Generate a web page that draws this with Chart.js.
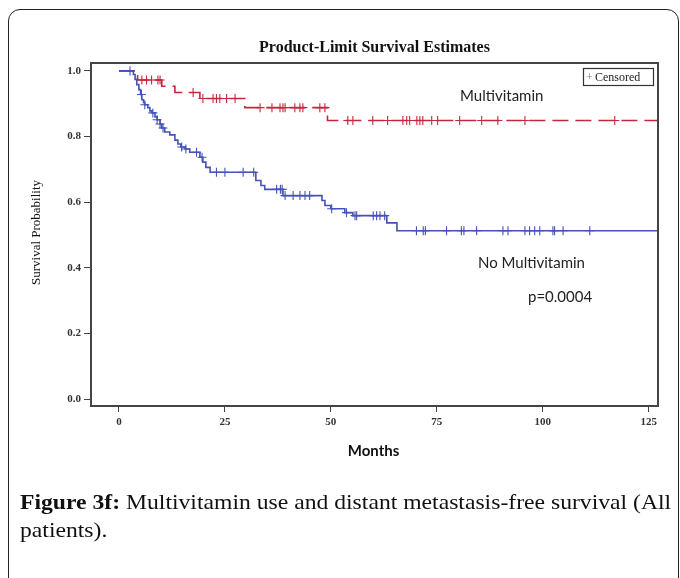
<!DOCTYPE html>
<html><head><meta charset="utf-8">
<script src="https://cdn.jsdelivr.net/npm/chart.js@4"></script>
<style>
html,body{margin:0;padding:0;background:#fff;width:680px;height:578px;overflow:hidden;}
#frame{position:absolute;left:8px;top:9px;width:671px;height:640px;border:1.6px solid #222;border-radius:12px;box-sizing:border-box;}
#wrap{position:absolute;left:0;top:0;width:680px;height:578px;}
#caption{position:absolute;left:20px;top:488px;width:600px;font-family:"Liberation Serif",serif;font-size:21.5px;line-height:28px;color:#111;white-space:nowrap;transform:scaleX(1.1);transform-origin:0 0;}
#caption b{font-weight:bold;}
</style></head>
<body>
<div id="frame"></div>
<div id="wrap"><canvas id="c" width="680" height="578"></canvas></div>
<div id="caption"><b>Figure 3f:</b> Multivitamin use and distant metastasis-free survival (All<br>patients).</div>
<script>
// ---- data ----
const xTicks = [0, 25, 50, 75, 100, 125];
const yTicks = [0.0, 0.2, 0.4, 0.6, 0.8, 1.0];
const followEnd = 127.2;

const noMvTimes = [0, 3.4, 3.8, 4.2, 4.7, 5.1, 5.4, 5.8, 6.1, 6.8, 7.3, 7.8, 8.5, 9.0, 9.7, 10.1, 10.8, 12.0, 13.2, 13.9, 14.6, 15.6, 16.7, 19.1, 19.8, 20.5, 21.5, 32.3, 33.5, 34.4, 38.7, 47.9, 48.6, 50.0, 53.3, 55.2, 63.2, 65.6];
const noMvSurv  = [1.0, 0.989, 0.974, 0.958, 0.943, 0.928, 0.912, 0.903, 0.897, 0.888, 0.878, 0.872, 0.860, 0.851, 0.838, 0.826, 0.814, 0.805, 0.789, 0.777, 0.768, 0.762, 0.752, 0.737, 0.722, 0.706, 0.691, 0.666, 0.651, 0.639, 0.620, 0.605, 0.590, 0.580, 0.568, 0.559, 0.537, 0.513];
const noMvCensored = [2.6, 5.3, 6.1, 8.0, 9.0, 9.7, 10.4, 14.8, 15.8, 18.3, 19.6, 23.0, 25.0, 29.3, 31.8, 37.2, 38.1, 38.5, 39.2, 41.1, 42.7, 43.9, 45.0, 50.2, 53.7, 55.7, 56.1, 60.0, 60.8, 61.6, 62.7, 70.2, 71.8, 72.3, 77.3, 80.8, 81.4, 84.4, 90.6, 91.8, 95.8, 96.9, 98.1, 99.3, 102.4, 102.8, 104.8, 111.1];

const mvTimes = [0, 3.6, 4.4, 10.1, 13.2, 19.1, 29.7, 49.2];
const mvSurv  = [1.0, 0.985, 0.972, 0.953, 0.934, 0.916, 0.888, 0.849];
const mvCensored = [5.4, 6.5, 7.7, 9.2, 9.7, 17.5, 19.8, 22.2, 23.0, 23.8, 25.4, 27.4, 33.3, 36.1, 38.0, 38.7, 39.2, 41.5, 42.7, 43.4, 47.4, 48.6, 54.0, 55.2, 59.9, 63.4, 67.0, 67.9, 68.6, 70.3, 71.0, 71.7, 73.8, 75.2, 80.4, 85.6, 89.4, 95.8, 117.0];

const groupLabels = ['Multivitamin', 'No Multivitamin'];
const pValueText = 'p=0.0004';

// ---- helpers ----
function stepPoints(times, surv, end) {
  const pts = times.map((t, i) => ({x: t, y: surv[i]}));
  pts.push({x: end, y: surv[surv.length - 1]});
  return pts;
}
function survAt(times, surv, t) {
  let s = surv[0];
  for (let i = 0; i < times.length; i++) if (times[i] <= t) s = surv[i];
  return s;
}
function censorPoints(times, surv, cens) {
  return cens.map(t => ({x: t, y: survAt(times, surv, t)}));
}

const RED = '#c4283c';
const BLUE = '#4453b4';

const overlay = {
  id: 'overlay',
  afterDraw(chart) {
    const ctx = chart.ctx, a = chart.chartArea;
    ctx.save();
    // box top and right
    ctx.strokeStyle = '#444'; ctx.lineWidth = 2;
    ctx.beginPath();
    ctx.moveTo(a.left, a.top); ctx.lineTo(a.right, a.top); ctx.lineTo(a.right, a.bottom);
    ctx.stroke();
    // title
    ctx.fillStyle = '#111';
    ctx.textAlign = 'center'; ctx.textBaseline = 'middle';
    ctx.font = 'bold 16px "Liberation Serif", serif';
    ctx.fillText('Product-Limit Survival Estimates', (a.left + a.right) / 2, 48);
    // x title
    ctx.font = 'bold 15px Lato, "Open Sans", sans-serif';
    ctx.fillText('Months', (a.left + a.right) / 2 - 1, 451);
    // y title
    ctx.save();
    ctx.translate(37, (a.top + a.bottom) / 2 - 2);
    ctx.rotate(-Math.PI / 2);
    ctx.font = '13px "Liberation Serif", serif';
    ctx.fillText('Survival Probability', 0, 0);
    ctx.restore();
    // annotations
    ctx.textAlign = 'left';
    ctx.font = '15px Lato, "Open Sans", sans-serif';
    ctx.fillStyle = '#222';
    ctx.fillText(groupLabels[0], 460, 96);
    ctx.fillText(groupLabels[1], 478, 263);
    ctx.fillText(pValueText, 528, 297);
    // legend box
    ctx.strokeStyle = '#333'; ctx.lineWidth = 1.2;
    ctx.strokeRect(583.5, 68.5, 70, 17);
    ctx.font = '12px "Liberation Serif", serif';
    ctx.fillStyle = '#888';
    ctx.fillText('+', 586, 77.5);
    ctx.fillStyle = '#222';
    ctx.fillText('Censored', 595, 77.5);
    ctx.restore();
  }
};

new Chart(document.getElementById('c'), {
  type: 'line',
  data: {
    datasets: [
      {
        label: groupLabels[1],
        data: stepPoints(noMvTimes, noMvSurv, followEnd),
        stepped: true, borderColor: BLUE, borderWidth: 1.6,
        pointRadius: 0, fill: false
      },
      {
        label: groupLabels[0],
        data: stepPoints(mvTimes, mvSurv, followEnd),
        stepped: true, borderColor: RED, borderWidth: 1.6, borderDash: [16, 7],
        pointRadius: 0, fill: false
      },
      {
        label: 'cens1',
        data: censorPoints(noMvTimes, noMvSurv, noMvCensored),
        showLine: false, pointStyle: 'cross', pointRadius: 4.5,
        pointBorderColor: BLUE, pointBorderWidth: 1.1, borderColor: BLUE
      },
      {
        label: 'cens2',
        data: censorPoints(mvTimes, mvSurv, mvCensored),
        showLine: false, pointStyle: 'cross', pointRadius: 4.5,
        pointBorderColor: RED, pointBorderWidth: 1.1, borderColor: RED
      }
    ]
  },
  options: {
    responsive: false, animation: false, devicePixelRatio: 1,
    layout: {padding: {left: 0, top: 63, right: 22, bottom: 0}},
    plugins: {legend: {display: false}, tooltip: {enabled: false}, title: {display: false}},
    scales: {
      x: {
        type: 'linear', min: -6.6, max: followEnd,
        afterBuildTicks: s => { s.ticks = xTicks.map(v => ({value: v})); },
        afterFit: s => { s.height = 172; },
        ticks: {font: {family: '"Liberation Serif", serif', size: 11, weight: 'bold'}, color: '#333', padding: 4, maxRotation: 0},
        grid: {drawOnChartArea: false, drawTicks: true, tickLength: 6, color: '#444', lineWidth: 1},
        border: {display: true, color: '#444', width: 2}
      },
      y: {
        type: 'linear', min: -0.021, max: 1.024,
        afterBuildTicks: s => { s.ticks = yTicks.map(v => ({value: v})); },
        afterFit: s => { s.width = 91; },
        ticks: {font: {family: '"Liberation Serif", serif', size: 11, weight: 'bold'}, color: '#333', padding: 3,
                callback: v => Number(v).toFixed(1)},
        grid: {drawOnChartArea: false, drawTicks: true, tickLength: 7, color: '#444', lineWidth: 1},
        border: {display: true, color: '#444', width: 2}
      }
    }
  },
  plugins: [overlay]
});
</script>
</body></html>
